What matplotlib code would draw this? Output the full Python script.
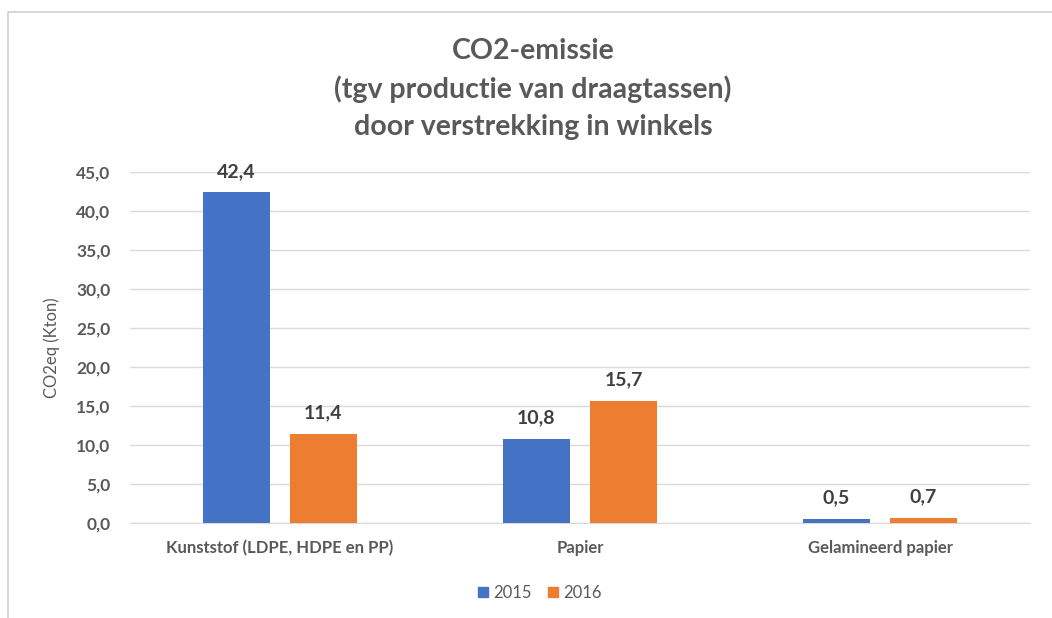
import matplotlib
matplotlib.use("Agg")
import matplotlib.pyplot as plt
import numpy as np
from matplotlib.patches import Rectangle

categories = ["Kunststof (LDPE, HDPE en PP)", "Papier", "Gelamineerd papier"]
series_names = ["2015", "2016"]
values_2015 = [42.4, 10.8, 0.5]
values_2016 = [11.4, 15.7, 0.7]
yticks = [0, 5, 10, 15, 20, 25, 30, 35, 40, 45]

plt.rcParams['font.family'] = ['Lato', 'DejaVu Sans']

W, H = 1052, 618
fig = plt.figure(figsize=(W/100, H/100), dpi=100)
fig.patch.set_facecolor("white")

# outer chart border
fig.add_artist(Rectangle((8/W, -0.05), 1.2, 1 - 12/H + 0.05, transform=fig.transFigure,
                         fill=False, edgecolor="#D0D0D0", linewidth=1.2))

ax = fig.add_axes([130/W, 1 - 523/H, 900/W, (523 - 172)/H])
x = np.arange(len(categories))
off = 0.145
w = 0.222
colors = ["#4472C4", "#ED7D31"]
for vals, dx, c in [(values_2015, -off, colors[0]), (values_2016, off, colors[1])]:
    bars = ax.bar(x + dx, vals, width=w, color=c, zorder=3)
    for b, v in zip(bars, vals):
        ax.annotate(f"{v:.1f}".replace(".", ","), (b.get_x() + b.get_width()/2, v),
                    xytext=(0, 9), textcoords="offset points", ha="center", va="bottom",
                    fontsize=14, fontweight="bold", color="#404040")

ax.set_xlim(-0.5, 2.5)
ax.set_ylim(0, 45)
ax.set_yticks(yticks)
ax.set_yticklabels([f"{t:.1f}".replace(".", ",") for t in yticks], fontsize=12.5,
                   fontweight="bold", color="#595959")
ax.set_xticks(x)
ax.set_xticklabels(categories, fontsize=12, fontweight="bold", color="#595959")
ax.tick_params(axis="both", length=0)
ax.tick_params(axis="y", pad=14)
ax.tick_params(axis="x", pad=12)
ax.grid(axis="y", color="#D9D9D9", linewidth=1, zorder=0)
for s in ["top", "right", "left"]:
    ax.spines[s].set_visible(False)
ax.spines["bottom"].set_color("#D9D9D9")
ax.set_ylabel("CO2eq (Kton)", fontsize=12, color="#595959")
ax.yaxis.set_label_coords(-(130 - 52)/900, 0.5)
ax.yaxis.label.set_verticalalignment("center")

fig.text(533/W, 1 - 89/H, "CO2-emissie\n(tgv productie van draagtassen)\ndoor verstrekking in winkels",
         ha="center", va="center", fontsize=20.5, fontweight="bold", color="#595959", linespacing=1.5)

handles = [Rectangle((0, 0), 1, 1, color=c) for c in colors]
fig.legend(handles, series_names, loc="center", bbox_to_anchor=(540/W, 1 - 593/H), ncol=2,
           frameon=False, fontsize=12, handlelength=0.6, handleheight=0.6, columnspacing=1.0,
           handletextpad=0.3, labelcolor="#595959")

fig.savefig("out.png", dpi=100)
